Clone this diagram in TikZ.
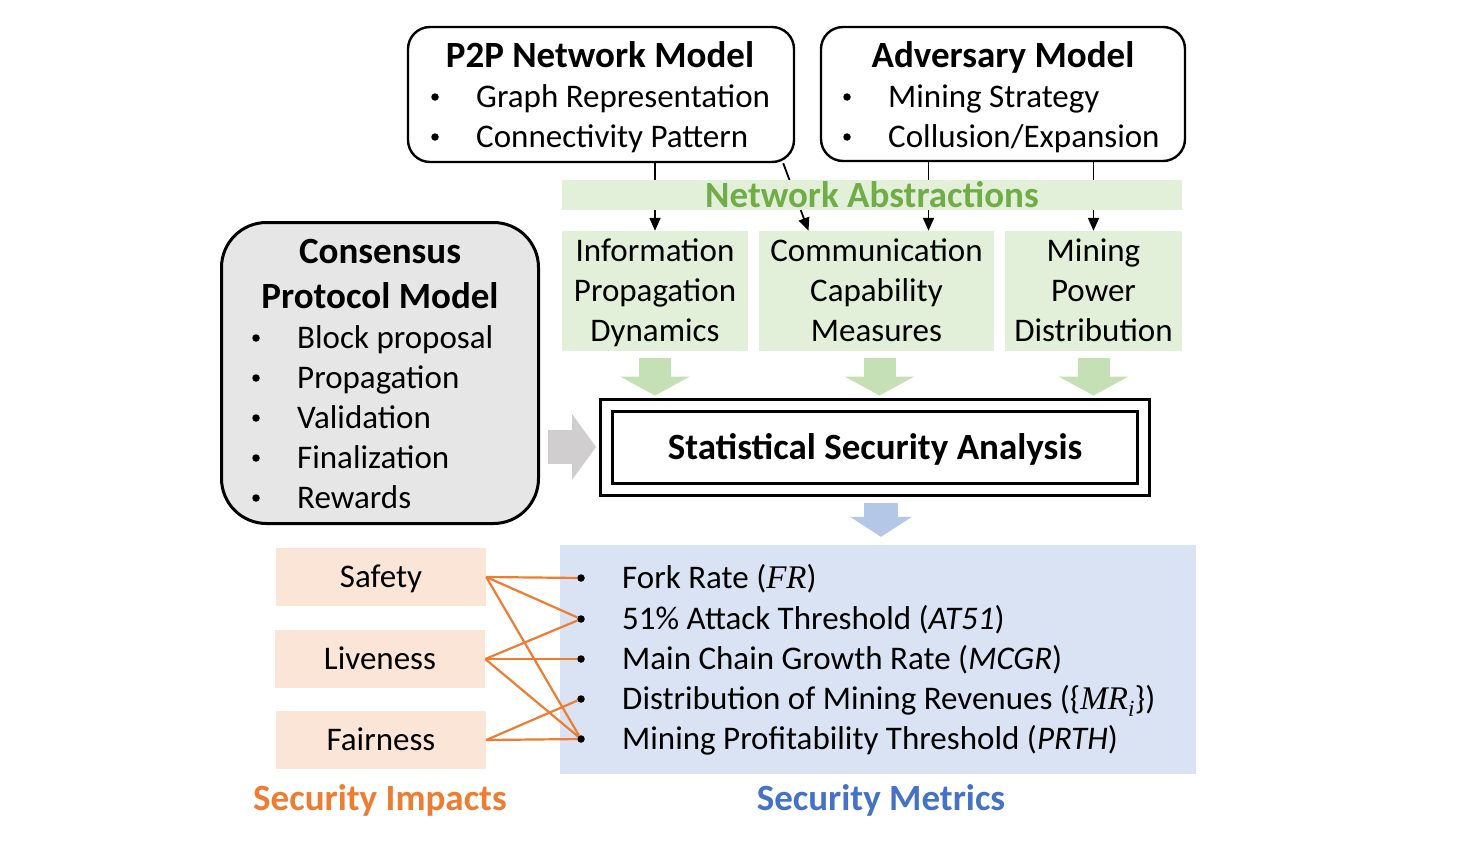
\documentclass[tikz,border=0pt]{standalone}
\usepackage{fontspec}
\setmainfont{Carlito}
\newfontfamily\serifmath{Liberation Serif}
\usetikzlibrary{arrows.meta,positioning}
\definecolor{absgreen}{HTML}{E2F0D9}
\definecolor{absdark}{HTML}{70AD47}
\definecolor{arrgreen}{HTML}{C5E0B4}
\definecolor{arrgray}{HTML}{D0CECE}
\definecolor{consgray}{HTML}{E7E6E6}
\definecolor{impfill}{HTML}{FBE5D6}
\definecolor{impline}{HTML}{ED7D31}
\definecolor{metfill}{HTML}{DAE3F3}
\definecolor{arrblue}{HTML}{B4C7E7}
\definecolor{metdark}{HTML}{4472C4}
\newcommand{\headsize}{\fontsize{37}{45}\selectfont\bfseries}
\newcommand{\bodysize}{\fontsize{33}{40}\selectfont}
\newcommand{\mvar}[1]{{\serifmath\itshape #1}}
\tikzstyle{model} = [rectangle, draw, rounded corners=22pt, line width=2.4pt]
\tikzstyle{head} = [inner sep=0pt, font=\headsize, text height=24pt, text depth=0pt]
\tikzstyle{headlines} = [inner sep=0pt, font=\headsize, align=center]
\tikzstyle{item} = [inner sep=0pt, font=\bodysize, text height=21pt, text depth=0pt, right=41pt]
\tikzstyle{bull} = [circle, fill=black, inner sep=0pt, minimum size=7.5pt]
\tikzstyle{abstr} = [rectangle, fill=absgreen, inner sep=0pt, minimum height=120pt, align=center, font=\bodysize, text height=101pt, text depth=0pt]
\tikzstyle{impact} = [rectangle, fill=impfill, inner sep=0pt, minimum width=210pt, minimum height=58pt, font=\bodysize, text height=21pt, text depth=0pt]
\tikzstyle{line} = [draw, line width=1.8pt, -{Triangle[length=13pt,width=11pt]}]
\tikzstyle{fat} = [line width=32pt, -{Triangle[line width=0pt,length=19pt,width=70pt]}]
\tikzstyle{tie} = [draw=impline, line width=2.2pt]

\begin{document}
\begin{tikzpicture}[x=1pt, y=-1pt]
	\useasboundingbox (0,0) rectangle (1482,846);
	% P2P network model
	\node [model, minimum width=386pt, minimum height=135pt] (p2p) at (601,94.5) {};
	\node [head] (p2ptitle) at (600,55) {P2P Network Model};
	\node [bull] (p2pb1) at (435,97) {};
	\node [item] (p2pi1) at (p2pb1) {Graph Representation};
	\node [bull] (p2pb2) at (435,137) {};
	\node [item] (p2pi2) at (p2pb2) {Connectivity Pattern};
	% adversary model
	\node [model, minimum width=364pt, minimum height=134pt] (adv) at (1003,94) {};
	\node [head] (advtitle) at (1003,55) {Adversary Model};
	\node [bull] (advb1) at (847,97) {};
	\node [item] (advi1) at (advb1) {Mining Strategy};
	\node [bull] (advb2) at (847,137) {};
	\node [item] (advi2) at (advb2) {Collusion/Expansion};
	% consensus protocol model
	\node [model, fill=consgray, rounded corners=45pt, line width=3pt, minimum width=317pt, minimum height=301pt] (cons) at (380,373) {};
	\node [headlines] (constitle) at (380,274) {Consensus\\Protocol Model};
	\node [bull] (consb1) at (256,338) {};
	\node [item] (consi1) at (consb1) {Block proposal};
	\node [bull] (consb2) at (256,378) {};
	\node [item] (consi2) at (consb2) {Propagation};
	\node [bull] (consb3) at (256,418) {};
	\node [item] (consi3) at (consb3) {Validation};
	\node [bull] (consb4) at (256,458) {};
	\node [item] (consi4) at (consb4) {Finalization};
	\node [bull] (consb5) at (256,498) {};
	\node [item] (consi5) at (consb5) {Rewards};
	% network abstractions
	\node [abstr, minimum width=186pt] (info) at (655,291) {Information\\Propagation\\Dynamics};
	\node [abstr, minimum width=235pt] (comm) at (876.5,291) {Communication\\Capability\\Measures};
	\node [abstr, minimum width=177pt] (mining) at (1093.5,291) {Mining\\Power\\Distribution};
	\path [line] (info.north |- p2p.south) -- (info.north);
	\path [line] ([xshift=-12pt]p2p.south east) -- ([xshift=-68pt]comm.north);
	\path [line] ([xshift=52pt]comm.north |- adv.south) -- ([xshift=52pt]comm.north);
	\path [line] (mining.north |- adv.south) -- (mining.north);
	\node [rectangle, fill=absgreen, inner sep=0pt, minimum width=620pt, minimum height=30pt, font=\headsize, text=absdark, text height=24pt, text depth=0pt] (abs) at (872,195) {Network Abstractions};
	% statistical security analysis
	\node [draw, line width=3pt, double, double distance=9pt, minimum width=537pt, minimum height=84pt, font=\headsize, text height=24pt, text depth=0pt] (ssa) at (875,447) {Statistical Security Analysis};
	\draw [fat, arrgreen, shorten <=7pt, shorten >=8pt] (info.south) -- (info.south |- ssa.north);
	\draw [fat, arrgreen, shorten <=7pt, shorten >=8pt] ([xshift=3pt]comm.south) -- ([xshift=3pt]comm.south |- ssa.north);
	\draw [fat, arrgreen, shorten <=7pt, shorten >=8pt] (mining.south) -- (mining.south |- ssa.north);
	\draw [fat, arrgray, line width=34pt, -{Triangle[line width=0pt,length=24pt,width=66pt]}, shorten <=8pt, shorten >=9pt] (cons.east |- ssa.west) -- (ssa.west);
	% security metrics
	\node [rectangle, fill=metfill, inner sep=0pt, minimum width=636pt, minimum height=229pt] (met) at (878,659.5) {};
	\draw [fat, arrblue, line width=34pt, -{Triangle[line width=0pt,length=20pt,width=62pt]}, shorten <=12pt, shorten >=8pt] ([xshift=3pt]met.north |- ssa.south) -- ([xshift=3pt]met.north);
	\node [bull] (m1) at (581,578) {};
	\node [item] (m1text) at (m1) {Fork Rate (\mvar{FR})};
	\node [bull] (m2) at (581,619) {};
	\node [item] (m2text) at (m2) {51\% Attack Threshold (\textit{AT51})};
	\node [bull] (m3) at (581,659) {};
	\node [item] (m3text) at (m3) {Main Chain Growth Rate (\textit{MCGR})};
	\node [bull] (m4) at (581,699) {};
	\node [item] (m4text) at (m4) {Distribution of Mining Revenues (\{\mvar{MR}\textsubscript{\mvar{i}}\})};
	\node [bull] (m5) at (581,739) {};
	\node [item] (m5text) at (m5) {Mining Profitability Threshold (\textit{PRTH})};
	% security impacts
	\node [impact] (safety) at (381,577) {Safety};
	\node [impact] (liveness) at (380,659) {Liveness};
	\node [impact] (fairness) at (381,740) {Fairness};
	\path [tie] (safety.east) -- (m1);
	\path [tie] (safety.east) -- (m2);
	\path [tie] (safety.east) -- (m5);
	\path [tie] (liveness.east) -- (m2);
	\path [tie] (liveness.east) -- (m3);
	\path [tie] (liveness.east) -- (m5);
	\path [tie] (fairness.east) -- (m4);
	\path [tie] (fairness.east) -- (m5);
	\node [head, text=impline] (impacts) at (380,798) {Security Impacts};
	\node [head, text=metdark] (metrics) at (881,798) {Security Metrics};
\end{tikzpicture}
\end{document}
